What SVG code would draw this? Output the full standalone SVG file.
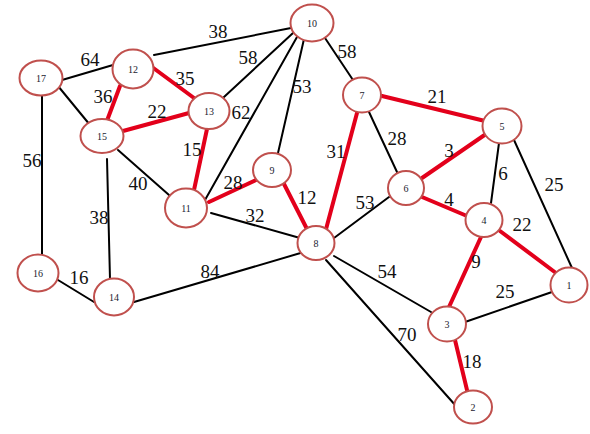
<svg xmlns="http://www.w3.org/2000/svg" width="590" height="434" viewBox="0 0 590 434">
<style>
.bk{stroke:#000;stroke-width:2;fill:none;stroke-linecap:round}
.rd{stroke:#e3001b;stroke-width:4;fill:none;stroke-linecap:round}
.nd ellipse{fill:#fff;stroke:#c0504d;stroke-width:2}
.nd text{font-family:"Liberation Serif","Times New Roman",serif;font-size:10px;fill:#1a1a2e;text-anchor:middle}
.lb{font-family:"Liberation Serif","Times New Roman",serif;font-size:19px;fill:#111;text-anchor:middle}
</style>
<rect width="590" height="434" fill="#fff"/>
<g id="connectors">
<line class="bk" x1="62" y1="80" x2="113" y2="65"/>
<line class="bk" x1="154" y1="55" x2="291" y2="28"/>
<line class="bk" x1="58" y1="86" x2="90" y2="125"/>
<line class="bk" x1="42" y1="95" x2="42" y2="254"/>
<line class="bk" x1="293" y1="33" x2="224" y2="97"/>
<line class="bk" x1="297" y1="37" x2="205" y2="200"/>
<line class="bk" x1="304" y1="39" x2="278" y2="153"/>
<line class="bk" x1="325" y1="38" x2="353" y2="80"/>
<line class="bk" x1="118" y1="150" x2="169" y2="195"/>
<line class="bk" x1="107" y1="159" x2="110" y2="279"/>
<line class="bk" x1="58" y1="280" x2="94" y2="302"/>
<line class="bk" x1="134" y1="302" x2="304" y2="252"/>
<line class="bk" x1="211" y1="213" x2="300" y2="238"/>
<line class="bk" x1="369" y1="112" x2="397" y2="172"/>
<line class="bk" x1="389" y1="197" x2="334" y2="238"/>
<line class="bk" x1="499" y1="143" x2="491" y2="203"/>
<line class="bk" x1="514" y1="140" x2="572" y2="268"/>
<line class="bk" x1="465" y1="322" x2="552" y2="292"/>
<line class="bk" x1="334" y1="256" x2="431" y2="312"/>
<line class="bk" x1="326" y1="260" x2="456" y2="406"/>
<line class="rd" x1="120" y1="86" x2="105" y2="126"/>
<line class="rd" x1="152" y1="67" x2="194" y2="98"/>
<line class="rd" x1="123" y1="131" x2="189" y2="113"/>
<line class="rd" x1="207" y1="129" x2="194" y2="190"/>
<line class="rd" x1="209" y1="202" x2="256" y2="180"/>
<line class="rd" x1="284" y1="184" x2="309" y2="233"/>
<line class="rd" x1="357" y1="113" x2="325" y2="233"/>
<line class="rd" x1="382" y1="96" x2="485" y2="121"/>
<line class="rd" x1="486" y1="134" x2="422" y2="178"/>
<line class="rd" x1="422" y1="197" x2="467" y2="216"/>
<line class="rd" x1="500" y1="231" x2="556" y2="273"/>
<line class="rd" x1="481" y1="237" x2="449" y2="307"/>
<line class="rd" x1="455" y1="340" x2="467" y2="390"/>
</g>
<g id="labels">
<text class="lb" x="90" y="66">64</text>
<text class="lb" x="218" y="38">38</text>
<text class="lb" x="103" y="103">36</text>
<text class="lb" x="185" y="85">35</text>
<text class="lb" x="157" y="118">22</text>
<text class="lb" x="248" y="64">58</text>
<text class="lb" x="302" y="93">53</text>
<text class="lb" x="347" y="58">58</text>
<text class="lb" x="241" y="119">62</text>
<text class="lb" x="437" y="103">21</text>
<text class="lb" x="449" y="157">3</text>
<text class="lb" x="503" y="180">6</text>
<text class="lb" x="554" y="191">25</text>
<text class="lb" x="449" y="206">4</text>
<text class="lb" x="397" y="145">28</text>
<text class="lb" x="32" y="167">56</text>
<text class="lb" x="138" y="190">40</text>
<text class="lb" x="99" y="224">38</text>
<text class="lb" x="79" y="284">16</text>
<text class="lb" x="192" y="156">15</text>
<text class="lb" x="233" y="189">28</text>
<text class="lb" x="307" y="204">12</text>
<text class="lb" x="336" y="158">31</text>
<text class="lb" x="255" y="222">32</text>
<text class="lb" x="365" y="209">53</text>
<text class="lb" x="210" y="278">84</text>
<text class="lb" x="387" y="278">54</text>
<text class="lb" x="522" y="231">22</text>
<text class="lb" x="476" y="268">9</text>
<text class="lb" x="505" y="298">25</text>
<text class="lb" x="472" y="368">18</text>
<text class="lb" x="407" y="341">70</text>
</g>
<g id="node1" class="nd"><ellipse cx="569" cy="285" rx="18.5" ry="17.5"/><text x="569" y="288.5">1</text></g>
<g id="node2" class="nd"><ellipse cx="473" cy="407" rx="19" ry="16.5"/><text x="473" y="410.5">2</text></g>
<g id="node3" class="nd"><ellipse cx="447" cy="324" rx="19" ry="17.5"/><text x="447" y="327.5">3</text></g>
<g id="node4" class="nd"><ellipse cx="484" cy="220" rx="18.5" ry="17"/><text x="484" y="223.5">4</text></g>
<g id="node5" class="nd"><ellipse cx="502" cy="126" rx="19.5" ry="17.5"/><text x="502" y="129.5">5</text></g>
<g id="node6" class="nd"><ellipse cx="406" cy="188" rx="18" ry="17"/><text x="406" y="191.5">6</text></g>
<g id="node7" class="nd"><ellipse cx="362" cy="95" rx="19" ry="17.5"/><text x="362" y="98.5">7</text></g>
<g id="node8" class="nd"><ellipse cx="316" cy="243" rx="18.5" ry="17"/><text x="316" y="246.5">8</text></g>
<g id="node9" class="nd"><ellipse cx="272" cy="170" rx="19" ry="17"/><text x="272" y="173.5">9</text></g>
<g id="node10" class="nd"><ellipse cx="312" cy="23" rx="21.5" ry="18.5"/><text x="312" y="26.5">10</text></g>
<g id="node11" class="nd"><ellipse cx="186" cy="208" rx="21" ry="19.5"/><text x="186" y="211.5">11</text></g>
<g id="node12" class="nd"><ellipse cx="133" cy="69" rx="20.5" ry="19.5"/><text x="133" y="72.5">12</text></g>
<g id="node13" class="nd"><ellipse cx="209" cy="111" rx="20.5" ry="18"/><text x="209" y="114.5">13</text></g>
<g id="node14" class="nd"><ellipse cx="114" cy="297" rx="20" ry="18.5"/><text x="114" y="300.5">14</text></g>
<g id="node15" class="nd"><ellipse cx="102" cy="136" rx="21.5" ry="17"/><text x="102" y="139.5">15</text></g>
<g id="node16" class="nd"><ellipse cx="38" cy="273" rx="20.5" ry="18.5"/><text x="38" y="276.5">16</text></g>
<g id="node17" class="nd"><ellipse cx="41" cy="78" rx="21.5" ry="17.5"/><text x="41" y="81.5">17</text></g>
</svg>
